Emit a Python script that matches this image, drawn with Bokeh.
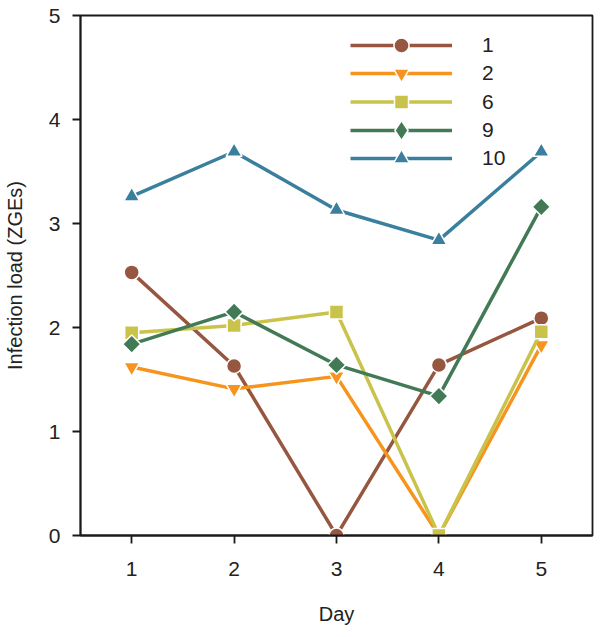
import math
from bokeh.plotting import figure
from bokeh.models import Legend, LegendItem, Range1d, FixedTicker
from bokeh.embed import file_html
from bokeh.resources import INLINE

days = [1, 2, 3, 4, 5]
series_names = ["1", "2", "6", "9", "10"]
s1 = [2.53, 1.63, 0.0, 1.64, 2.09]
s2 = [1.62, 1.41, 1.53, 0.0, 1.83]
s6 = [1.95, 2.02, 2.15, 0.0, 1.96]
s9 = [1.84, 2.15, 1.64, 1.34, 3.16]
s10 = [3.26, 3.69, 3.13, 2.84, 3.69]
x_ticks = [1, 2, 3, 4, 5]
y_ticks = [0, 1, 2, 3, 4, 5]

series = [s1, s2, s6, s9, s10]
colors = ["#96563F", "#F7941E", "#C9C34B", "#437A56", "#3A7F9E"]
markers = ["circle", "inverted_triangle", "square", "square", "triangle"]
angles = [0, 0, 0, math.pi / 4, 0]
msizes = [15, 16, 14, 13, 16]
legend_markers = ["circle", "inverted_triangle", "square", "diamond", "triangle"]
legend_sizes = [15, 16, 14, 20, 16]

FONT = "Liberation Sans"
H = 627
TOP = 15
BOTTOM = 92

p = figure(width=600, height=H, output_backend="svg", toolbar_location=None,
           x_range=Range1d(0.5, 5.5), y_range=Range1d(0, 5),
           min_border_left=72, min_border_right=8, min_border_top=TOP, min_border_bottom=BOTTOM)

p.xgrid.visible = False
p.ygrid.visible = False
p.outline_line_color = "#1a1a1a"
p.outline_line_width = 1.8
p.background_fill_color = "white"
p.border_fill_color = "white"

for ax in (p.xaxis[0], p.yaxis[0]):
    ax.axis_line_color = "#1a1a1a"
    ax.axis_line_width = 1.8
    ax.major_tick_line_color = "#1a1a1a"
    ax.major_tick_line_width = 1.8
    ax.major_tick_out = 8
    ax.major_tick_in = 0
    ax.minor_tick_line_color = None
    ax.major_label_text_font = FONT
    ax.major_label_text_font_size = "21px"
    ax.major_label_text_color = "#222222"
    ax.axis_label_text_font = FONT
    ax.axis_label_text_font_size = "20px"
    ax.axis_label_text_font_style = "normal"
    ax.axis_label_text_color = "#222222"

p.xaxis.ticker = FixedTicker(ticks=x_ticks)
p.yaxis.ticker = FixedTicker(ticks=y_ticks)
p.xaxis.axis_label = "Day"
p.yaxis.axis_label = "Infection load (ZGEs)"
p.xaxis.major_label_standoff = 18
p.xaxis.axis_label_standoff = 24
p.yaxis.major_label_standoff = 12
p.yaxis.axis_label_standoff = 20

# legend rows: marker size in a legend is 0.4 * glyph height
frame_h = H - TOP - BOTTOM
row_step = 28.3
first_center = 30  # from frame top
for i, (name, ys, c, m, a, s, lm, ls) in enumerate(
        zip(series_names, series, colors, markers, angles, msizes, legend_markers, legend_sizes)):
    ln = p.line(days, ys, line_color=c, line_width=3.5)
    sc = p.scatter(days, ys, marker=m, angle=a, size=s, fill_color=c, line_color="white", line_width=1.5)
    # legend proxy (a single NaN point, never drawn) carrying the legend's marker shape
    proxy = p.scatter(x=[days[0]], y=[float("nan")], marker=lm, size=ls,
                      fill_color=c, line_color="white", line_width=1.5)
    gh = int(round(ls / 0.4))
    center = first_center + i * row_step
    loc_y = int(round(frame_h - center - gh / 2))
    legend = Legend(items=[LegendItem(label=name, renderers=[ln, proxy])],
                    location=(270, loc_y), glyph_width=102, glyph_height=gh,
                    spacing=0, padding=0, margin=0, label_standoff=30,
                    border_line_color=None, background_fill_alpha=0,
                    label_text_font=FONT, label_text_font_size="21px",
                    label_text_color="#222222", label_height=10)
    p.add_layout(legend)

open("out.html", "w").write(file_html(p, INLINE))
